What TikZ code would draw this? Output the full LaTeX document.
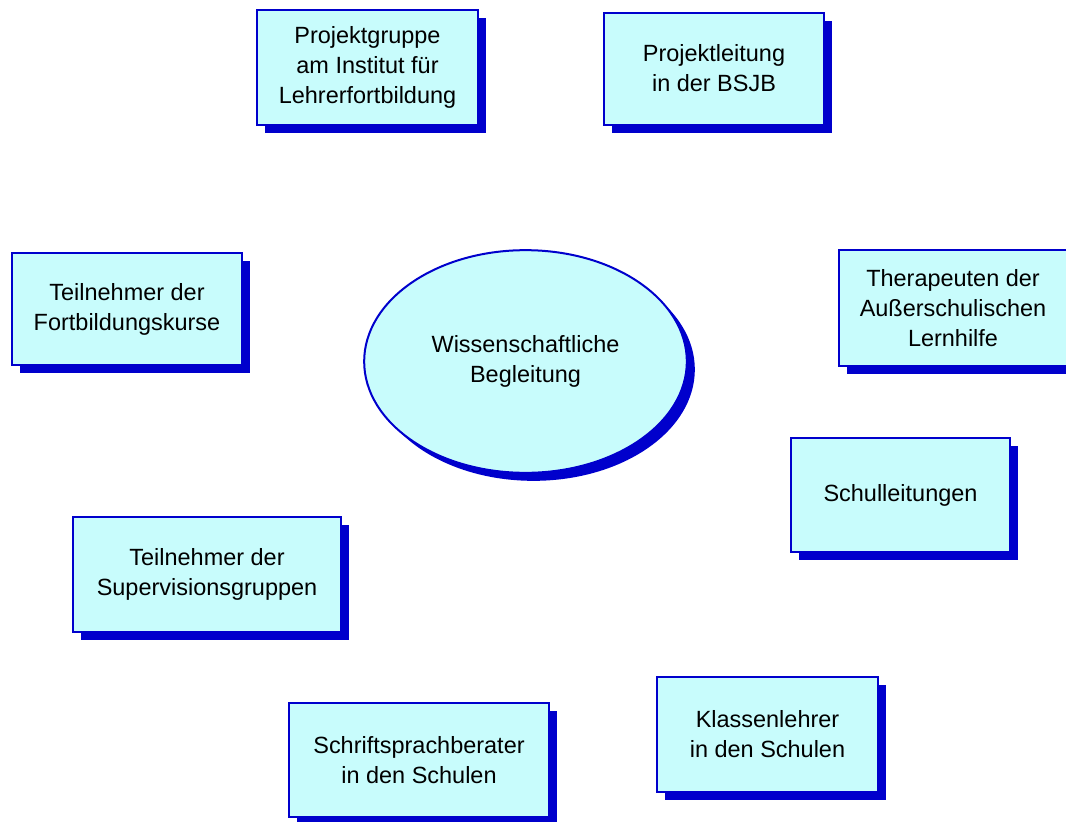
\documentclass[tikz,border=0pt]{standalone}
\usepackage{fontspec}
\setmainfont{Liberation Sans}
\usetikzlibrary{shapes.geometric,shadows}
\definecolor{boxfill}{HTML}{C8FCFC}
\definecolor{boxblue}{HTML}{0000CC}
\begin{document}
\begin{tikzpicture}[x=0.75pt, y=-0.75pt,
        every node/.style={font=\fontsize{17.6}{22.5}\selectfont, align=center},
        shade/.style={drop shadow={shadow xshift=6pt, shadow yshift=-6pt,
            fill=boxblue, opacity=1}},
        box/.style={rectangle, draw=boxblue, line width=1.5pt, fill=boxfill,
            inner sep=0pt, shade},
        center/.style={ellipse, draw=boxblue, line width=1.5pt, fill=boxfill,
            inner sep=0pt, shade, minimum width=242pt, minimum height=167pt}]
    \useasboundingbox (0,0) rectangle (1066,821);

    % middle
    \node[center] (wb) at (525.5, 361.5) {Wissenschaftliche\\Begleitung};

    % the groups round it
    \node[box, minimum width=166pt, minimum height=86pt] (grp) at (367.5, 67.5)
        {Projektgruppe\\am Institut für\\Lehrerfortbildung};
    \node[box, minimum width=165pt, minimum height=84pt] (leit) at (714, 68.5)
        {Projektleitung\\in der BSJB};
    \node[box, minimum width=172pt, minimum height=84pt] (fbk) at (127, 309)
        {Teilnehmer der\\Fortbildungskurse};
    \node[box, minimum width=171pt, minimum height=87pt] (ther) at (953, 308)
        {Therapeuten der\\Außerschulischen\\Lernhilfe};
    \node[box, minimum width=164pt, minimum height=86pt] (sl) at (900.5, 495)
        {Schulleitungen};
    \node[box, minimum width=201pt, minimum height=86pt] (sup) at (207, 574.5)
        {Teilnehmer der\\Supervisionsgruppen};
    \node[box, minimum width=195pt, minimum height=86pt] (sch) at (419, 760)
        {Schriftsprachberater\\in den Schulen};
    \node[box, minimum width=166pt, minimum height=86pt] (kl) at (767.5, 734.5)
        {Klassenlehrer\\in den Schulen};
\end{tikzpicture}
\end{document}
